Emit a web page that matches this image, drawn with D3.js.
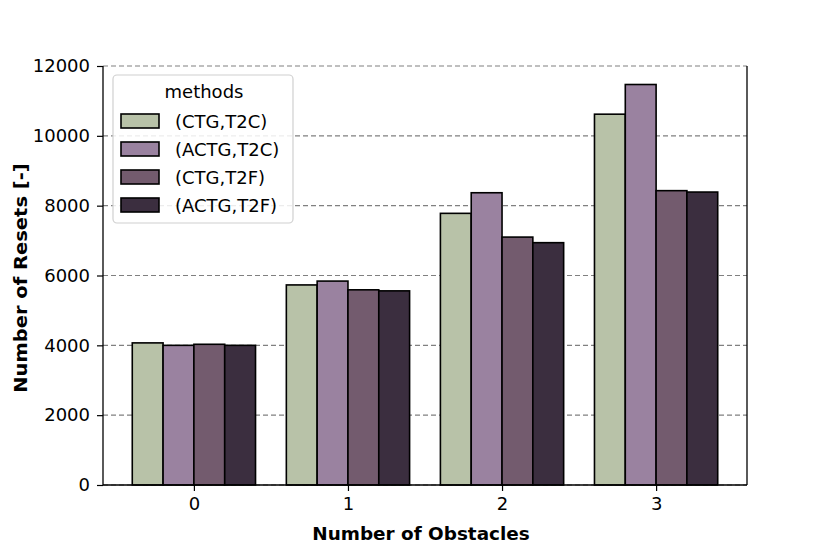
<!DOCTYPE html>
<html><head><meta charset="utf-8">
<script src="https://cdn.jsdelivr.net/npm/d3@7"></script>
<style>body{margin:0;background:#fff}svg{font-family:"DejaVu Sans",sans-serif}</style>
</head><body>
<svg id="c" width="830" height="554"></svg>
<script>
const categories = [0, 1, 2, 3];
const methods = ["(CTG,T2C)", "(ACTG,T2C)", "(CTG,T2F)", "(ACTG,T2F)"];
const colors = ["#b8c2a8", "#9a82a0", "#735b6e", "#3b2e3f"];
const ctgT2C  = [4070, 5730, 7780, 10620];
const actgT2C = [4000, 5840, 8370, 11470];
const ctgT2F  = [4030, 5590, 7100, 8430];
const actgT2F = [4000, 5560, 6940, 8390];
const yTicks = [0, 2000, 4000, 6000, 8000, 10000, 12000];
const series = [ctgT2C, actgT2C, ctgT2F, actgT2F];

const svg = d3.select("#c");
const L = 103, R = 747, T = 66, B = 485;
const x = d3.scaleLinear().domain([-0.59, 3.59]).range([L, R]);
const y = d3.scaleLinear().domain([0, 12000]).range([B, T]);
const bw = 0.2;
const FS = 18;

// grid
svg.append("g").selectAll("line").data(yTicks).join("line")
  .attr("x1", L).attr("x2", R).attr("y1", d => y(d)).attr("y2", d => y(d))
  .attr("stroke", "#808080").attr("stroke-width", 1.1).attr("stroke-dasharray", "5,3");

// bars
series.forEach((s, j) => {
  svg.append("g").selectAll("rect").data(categories).join("rect")
    .attr("x", d => x(d + (j - 1.5) * bw - bw / 2))
    .attr("width", d => x(bw) - x(0))
    .attr("y", (d, i) => y(s[i]))
    .attr("height", (d, i) => y(0) - y(s[i]))
    .attr("fill", colors[j]).attr("stroke", "#000").attr("stroke-width", 1.6);
});

// axes
const xa = svg.append("g").attr("transform", `translate(0,${B})`)
  .call(d3.axisBottom(x).tickValues(categories).tickFormat(d3.format("d")).tickSize(6).tickPadding(6));
const ya = svg.append("g").attr("transform", `translate(${L},0)`)
  .call(d3.axisLeft(y).tickValues(yTicks).tickFormat(d => d).tickSize(6).tickPadding(7));
[xa, ya].forEach(a => {
  a.select(".domain").remove();
  a.selectAll("text").attr("font-size", FS).attr("fill", "#000").attr("font-family", "DejaVu Sans");
  a.selectAll("line").attr("stroke", "#000").attr("stroke-width", 1.2);
});
// spines
svg.append("line").attr("x1", L).attr("x2", L).attr("y1", T).attr("y2", B).attr("stroke", "#000").attr("stroke-width", 1.3);
svg.append("line").attr("x1", R).attr("x2", R).attr("y1", T).attr("y2", B).attr("stroke", "#000").attr("stroke-width", 1.3);
svg.append("line").attr("x1", L).attr("x2", R).attr("y1", B).attr("y2", B).attr("stroke", "#000").attr("stroke-width", 1.3);

// labels
svg.append("text").attr("x", 421).attr("y", 540).attr("text-anchor", "middle")
  .attr("font-size", 18.4).attr("font-weight", "bold").text("Number of Obstacles");
svg.append("text").attr("transform", `translate(27,278) scale(1,1.06) rotate(-90)`).attr("text-anchor", "middle")
  .attr("font-size", 18.4).attr("font-weight", "bold").text("Number of Resets [-]");

// legend
const lg = svg.append("g");
lg.append("rect").attr("x", 113).attr("y", 75).attr("width", 180).attr("height", 148).attr("rx", 4)
  .attr("fill", "#fff").attr("fill-opacity", 0.85).attr("stroke", "#d0d0d0").attr("stroke-width", 1.2);
lg.append("text").attr("x", 204).attr("y", 98).attr("text-anchor", "middle").attr("font-size", FS).text("methods");
methods.forEach((m, j) => {
  const yy = 121 + j * 28;
  lg.append("rect").attr("x", 121).attr("y", yy - 7).attr("width", 38).attr("height", 14)
    .attr("fill", colors[j]).attr("stroke", "#000").attr("stroke-width", 1.6);
  lg.append("text").attr("x", 175).attr("y", yy + 6.5).attr("font-size", FS).text(m);
});
</script>
</body></html>
